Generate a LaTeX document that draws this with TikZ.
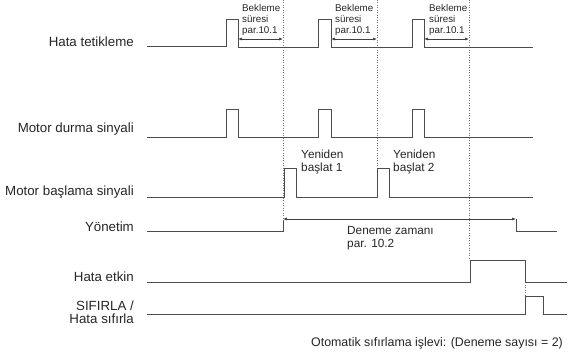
\documentclass[tikz,border=0pt]{standalone}
\usepackage{fontspec}
\setmainfont{Liberation Sans}
\usetikzlibrary{arrows.meta}
\begin{document}
\begin{tikzpicture}[x=1pt,y=-1pt,
  sig/.style={draw=black!70,line width=0.9pt},
  dots/.style={draw=black!55,line width=0.5pt,dotted},
  dim/.style={draw=black!75,line width=0.7pt,{Latex[length=4pt,width=3pt]}-{Latex[length=4pt,width=3pt]}},
  lbl/.style={anchor=east,inner sep=0pt,text=black!85,font=\fontsize{13.3}{13}\selectfont},
  small/.style={anchor=west,inner sep=0pt,align=left,text=black!85,font=\fontsize{9.8}{11}\selectfont},
  note/.style={anchor=west,inner sep=0pt,align=left,text=black!85,font=\fontsize{11.8}{13.5}\selectfont}]
\useasboundingbox (0,0) rectangle (573,353);

\node[lbl] (ht) at (134,42) {Hata tetikleme};
\node[lbl] (md) at (134,129) {Motor durma sinyali};
\node[lbl] (mb) at (134,192) {Motor başlama sinyali};
\node[lbl] (yn) at (134,227) {Yönetim};
\node[lbl] (he) at (134,277) {Hata etkin};
\node[lbl,align=right] (sf) at (134,312) {SIFIRLA /\\Hata sıfırla};

\draw[dots] (283,0) -- (283,231);
\draw[dots] (377,0) -- (377,168);
\draw[dots] (469,0) -- (469,260);
\draw[dots] (525,282) -- (525,296);

\draw[sig] (147,46) -- (226,46) -- (226,19) -- (238,19) -- (238,47) -- (318,47) -- (318,19) -- (331,19)
  -- (331,47) -- (412,47) -- (412,19) -- (424,19) -- (424,47) -- (533,47);
\draw[sig] (147,137) -- (226,137) -- (226,109) -- (238,109) -- (238,137) -- (318,137) -- (318,109) -- (331,109)
  -- (331,137) -- (412,137) -- (412,109) -- (424,109) -- (424,137) -- (533,137);
\draw[sig] (147,197) -- (284,197) -- (284,168) -- (296,168) -- (296,197) -- (377,197) -- (377,168) -- (389,168)
  -- (389,197) -- (533,197);
\draw[sig] (147,231) -- (283,231) -- (283,221);
\draw[sig] (516,219) -- (516,231) -- (557,231);
\draw[sig] (147,282) -- (470,282) -- (470,260) -- (525,260) -- (525,282) -- (567,282);
\draw[sig] (147,314) -- (525,314) -- (525,296) -- (543,296) -- (543,314) -- (567,314);

\draw[dim] (238,39) -- (283,39);
\draw[dim] (331,39) -- (377,39);
\draw[dim] (424,39) -- (469,39);
\draw[dim] (283,219) -- (516,219);

\node[small] (b1) at (242,20) {Bekleme\\süresi\\par.10.1};
\node[small] (b2) at (335,20) {Bekleme\\süresi\\par.10.1};
\node[small] (b3) at (429,20) {Bekleme\\süresi\\par.10.1};
\node[note] (y1) at (301,162) {Yeniden\\başlat 1};
\node[note] (y2) at (393,162) {Yeniden\\başlat 2};
\node[note] (dz) at (347,238) {Deneme zamanı\\par. 10.2};
\node[anchor=east,inner sep=0pt,text=black!85,font=\fontsize{12.4}{14}\selectfont] (ot) at (563,343)
  {Otomatik sıfırlama işlevi: (Deneme sayısı = 2)};
\end{tikzpicture}
\end{document}
